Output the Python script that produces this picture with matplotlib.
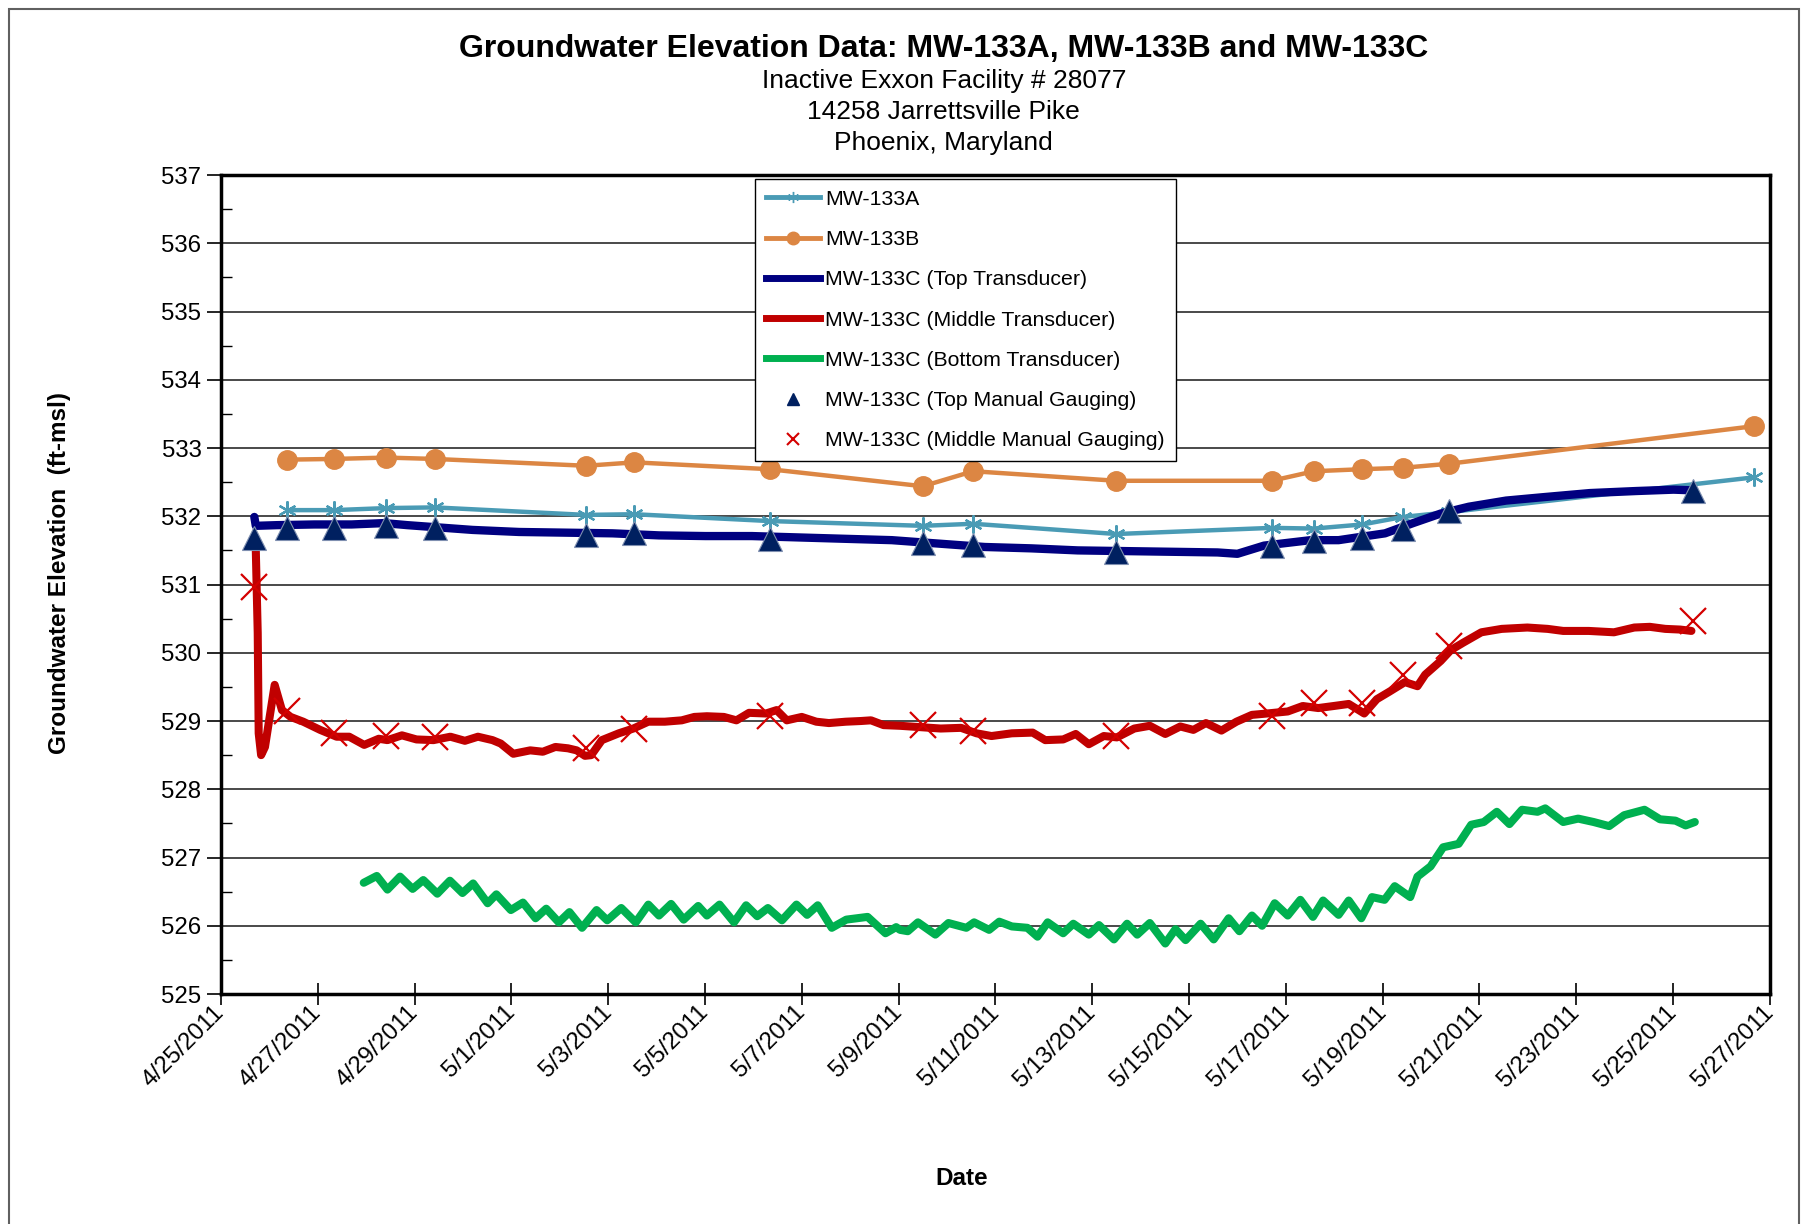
import matplotlib
matplotlib.use('Agg')
import matplotlib.pyplot as plt
import matplotlib.dates as mdates
from matplotlib.ticker import FuncFormatter, MultipleLocator
from matplotlib.lines import Line2D
from matplotlib.patches import Rectangle
import numpy as np
import pandas as pd

plt.rcParams['font.family'] = ['Liberation Sans', 'DejaVu Sans']

# ---------------- data ----------------
base_date = pd.Timestamp('2011-04-25')

well_dates = ['2011-04-26 09:00', '2011-04-27 08:00', '2011-04-28 10:00', '2011-04-29 10:00',
              '2011-05-02 13:00', '2011-05-03 13:00', '2011-05-06 08:00', '2011-05-09 12:00',
              '2011-05-10 13:00', '2011-05-13 12:00', '2011-05-16 17:00', '2011-05-17 14:00',
              '2011-05-18 14:00', '2011-05-19 10:00', '2011-05-20 09:00', '2011-05-26 16:00']
mw133a = [532.09, 532.09, 532.12, 532.13, 532.02, 532.03, 531.93, 531.86,
          531.89, 531.74, 531.83, 531.82, 531.88, 531.99, 532.06, 532.57]
mw133b = [532.83, 532.84, 532.86, 532.84, 532.74, 532.79, 532.69, 532.44,
          532.66, 532.52, 532.52, 532.66, 532.69, 532.71, 532.77, 533.32]

manual_dates = ['2011-04-25 16:30', '2011-04-26 09:00', '2011-04-27 08:00', '2011-04-28 10:00',
                '2011-04-29 10:00', '2011-05-02 13:00', '2011-05-03 13:00', '2011-05-06 08:00',
                '2011-05-09 12:00', '2011-05-10 13:00', '2011-05-13 12:00', '2011-05-16 17:00',
                '2011-05-17 14:00', '2011-05-18 14:00', '2011-05-19 10:00', '2011-05-20 09:00',
                '2011-05-25 10:00']
top_manual = [531.68, 531.83, 531.83, 531.86, 531.83, 531.73, 531.75, 531.67, 531.61,
              531.58, 531.48, 531.56, 531.64, 531.68, 531.81, 532.08, 532.37]
mid_manual = [530.96, 529.15, 528.82, 528.78, 528.77, 528.61, 528.88, 529.08, 528.94,
              528.85, 528.78, 529.07, 529.26, 529.26, 529.67, 530.10, 530.46]

# transducer records: (days after 4/25/2011, elevation ft-msl)
top_transducer = [(0.69, 531.99), (0.72, 531.86), (1.16, 531.87), (1.93, 531.88), (2.70, 531.88),
                  (3.37, 531.90), (3.85, 531.87), (4.43, 531.84), (5.20, 531.80), (6.16, 531.77),
                  (7.12, 531.76), (8.09, 531.75), (9.05, 531.72), (10.01, 531.71), (10.97, 531.71),
                  (11.93, 531.69), (12.89, 531.67), (13.86, 531.65), (14.82, 531.60), (15.78, 531.55),
                  (16.74, 531.53), (17.70, 531.50), (18.66, 531.49), (19.63, 531.48), (20.59, 531.47),
                  (21.00, 531.45), (21.55, 531.57), (22.51, 531.65), (23.09, 531.65), (23.47, 531.69),
                  (24.05, 531.75), (24.63, 531.90), (25.20, 532.04), (25.78, 532.14), (26.55, 532.23),
                  (27.32, 532.28), (28.28, 532.34), (29.24, 532.37), (30.01, 532.39), (30.40, 532.38)]

middle_transducer = [(0.72, 531.51), (0.76, 530.29), (0.78, 528.82), (0.83, 528.50), (0.91, 528.62),
                     (1.11, 529.53), (1.26, 529.16), (1.44, 529.06), (1.70, 528.99), (2.05, 528.87),
                     (2.39, 528.77), (2.65, 528.77), (2.96, 528.65), (3.26, 528.74), (3.44, 528.72),
                     (3.74, 528.79), (4.04, 528.73), (4.39, 528.72), (4.74, 528.77), (5.04, 528.71),
                     (5.31, 528.77), (5.61, 528.72), (5.78, 528.67), (6.04, 528.52), (6.39, 528.57),
                     (6.65, 528.55), (6.91, 528.62), (7.17, 528.60), (7.35, 528.57), (7.52, 528.49),
                     (7.65, 528.50), (7.87, 528.72), (8.22, 528.82), (8.52, 528.89), (8.83, 528.99),
                     (9.17, 528.99), (9.52, 529.01), (9.78, 529.06), (10.04, 529.07), (10.39, 529.06),
                     (10.65, 529.01), (10.91, 529.12), (11.26, 529.11), (11.48, 529.16), (11.69, 529.01),
                     (12.00, 529.06), (12.30, 528.99), (12.56, 528.97), (12.91, 528.99), (13.22, 529.00),
                     (13.43, 529.01), (13.69, 528.94), (14.03, 528.93), (14.45, 528.91), (14.87, 528.89),
                     (15.29, 528.90), (15.61, 528.82), (15.92, 528.78), (16.34, 528.82), (16.77, 528.83),
                     (17.03, 528.72), (17.40, 528.73), (17.66, 528.81), (17.93, 528.66), (18.24, 528.78),
                     (18.51, 528.76), (18.87, 528.89), (19.19, 528.93), (19.51, 528.81), (19.82, 528.92),
                     (20.09, 528.87), (20.35, 528.97), (20.67, 528.86), (20.98, 528.99), (21.30, 529.09),
                     (21.61, 529.11), (22.04, 529.14), (22.35, 529.22), (22.67, 529.19), (22.99, 529.22),
                     (23.30, 529.25), (23.62, 529.11), (23.88, 529.32), (24.14, 529.43), (24.46, 529.57),
                     (24.72, 529.51), (24.88, 529.68), (25.20, 529.88), (25.41, 530.04), (25.67, 530.15),
                     (26.04, 530.30), (26.46, 530.35), (26.99, 530.37), (27.41, 530.35), (27.73, 530.32),
                     (28.26, 530.32), (28.78, 530.30), (29.20, 530.37), (29.52, 530.38), (29.84, 530.35),
                     (30.15, 530.34), (30.38, 530.32)]

bottom_transducer = [(2.95, 526.63), (3.22, 526.73), (3.44, 526.53), (3.70, 526.72), (3.96, 526.54),
                     (4.18, 526.67), (4.47, 526.47), (4.73, 526.66), (4.99, 526.48), (5.21, 526.62),
                     (5.51, 526.33), (5.69, 526.46), (5.99, 526.23), (6.24, 526.34), (6.50, 526.11),
                     (6.72, 526.25), (6.98, 526.05), (7.20, 526.20), (7.46, 525.97), (7.76, 526.23),
                     (7.98, 526.08), (8.27, 526.26), (8.57, 526.05), (8.83, 526.31), (9.05, 526.15),
                     (9.30, 526.32), (9.56, 526.09), (9.86, 526.29), (10.04, 526.15), (10.30, 526.31),
                     (10.60, 526.05), (10.85, 526.30), (11.08, 526.14), (11.30, 526.26), (11.59, 526.08),
                     (11.89, 526.31), (12.11, 526.16), (12.33, 526.30), (12.62, 525.97), (12.92, 526.09),
                     (13.36, 526.13), (13.73, 525.89), (13.95, 525.98), (14.03, 525.94), (14.19, 525.92),
                     (14.40, 526.05), (14.76, 525.87), (15.03, 526.04), (15.40, 525.97), (15.56, 526.05),
                     (15.87, 525.94), (16.08, 526.06), (16.34, 525.99), (16.66, 525.97), (16.87, 525.84),
                     (17.08, 526.05), (17.40, 525.89), (17.61, 526.03), (17.93, 525.87), (18.14, 526.01),
                     (18.45, 525.80), (18.72, 526.03), (18.93, 525.87), (19.19, 526.04), (19.51, 525.74),
                     (19.72, 525.95), (19.93, 525.79), (20.24, 526.03), (20.51, 525.80), (20.82, 526.11),
                     (21.04, 525.92), (21.30, 526.15), (21.51, 526.00), (21.77, 526.33), (22.04, 526.15),
                     (22.30, 526.38), (22.56, 526.13), (22.77, 526.37), (23.09, 526.16), (23.30, 526.37),
                     (23.56, 526.11), (23.78, 526.42), (24.04, 526.38), (24.25, 526.58), (24.57, 526.42),
                     (24.72, 526.72), (24.99, 526.87), (25.25, 527.15), (25.57, 527.20), (25.83, 527.48),
                     (26.09, 527.52), (26.36, 527.67), (26.62, 527.49), (26.88, 527.70), (27.20, 527.67),
                     (27.36, 527.72), (27.73, 527.52), (28.04, 527.57), (28.36, 527.52), (28.68, 527.46),
                     (28.99, 527.62), (29.41, 527.70), (29.73, 527.56), (30.05, 527.54), (30.26, 527.47),
                     (30.45, 527.52)]

x_tick_dates = pd.date_range('2011-04-25', '2011-05-27', freq='2D')

labels = ['MW-133A', 'MW-133B', 'MW-133C (Top Transducer)', 'MW-133C (Middle Transducer)',
          'MW-133C (Bottom Transducer)', 'MW-133C (Top Manual Gauging)',
          'MW-133C (Middle Manual Gauging)']

# ---------------- styles ----------------
c_a = '#4A9BB5'
c_b = '#DC8643'
c_top = '#000080'
c_mid = '#C00000'
c_bot = '#00B050'
c_tri = '#002060'
c_x = '#D40000'
asterisk = (6, 2, 0)


def series(points):
    arr = np.array(points, dtype=float)
    return base_date + pd.to_timedelta(arr[:, 0], unit='D'), arr[:, 1]


fig = plt.figure(figsize=(18.08, 12.24), dpi=100)
fig.patches.append(Rectangle((0.005, -0.02), 0.99, 1.013, transform=fig.transFigure,
                             fill=False, edgecolor='#606060', lw=1.5))
ax = fig.add_axes([0.1222, 0.1879, 0.8567, 0.6691])

ax.plot(pd.to_datetime(well_dates), mw133a, color=c_a, lw=3.2, marker=asterisk, ms=13,
        mew=1.6, zorder=3)
ax.plot(pd.to_datetime(well_dates), mw133b, color=c_b, lw=3.2, marker='o', ms=14,
        mec=c_b, zorder=3)
tx, ty = series(top_transducer)
ax.plot(tx, ty, color=c_top, lw=6, solid_joinstyle='round', solid_capstyle='round', zorder=4)
mx, my = series(middle_transducer)
ax.plot(mx, my, color=c_mid, lw=5.8, solid_joinstyle='round', solid_capstyle='round', zorder=4)
bx, by = series(bottom_transducer)
ax.plot(bx, by, color=c_bot, lw=5.8, solid_joinstyle='round', solid_capstyle='round', zorder=4)
ax.plot(pd.to_datetime(manual_dates), top_manual, ls='none', marker='^', ms=17, color=c_tri,
        mec='#7F8FB0', mew=0.8, zorder=5)
ax.plot(pd.to_datetime(manual_dates), mid_manual, ls='none', marker='x', ms=19, mew=1.6,
        color=c_x, zorder=5)

ax.set_xlim(pd.Timestamp('2011-04-25'), pd.Timestamp('2011-05-27'))
ax.set_ylim(525, 537)
ax.set_xticks(mdates.date2num(x_tick_dates))
ax.xaxis.set_major_formatter(FuncFormatter(
    lambda v, p: (lambda d: f"{d.month}/{d.day}/{d.year}")(mdates.num2date(v))))
ax.yaxis.set_major_locator(MultipleLocator(1))
ax.yaxis.set_minor_locator(MultipleLocator(0.5))

ax.tick_params(axis='x', direction='inout', length=16, width=1.2, labelsize=17.3, pad=3)
ax.tick_params(axis='y', which='major', direction='out', length=10, width=1.2, labelsize=17.3, pad=4)
ax.tick_params(axis='y', which='minor', direction='in', length=8, width=1.0)
for lab in ax.get_xticklabels():
    lab.set_rotation(45)
    lab.set_ha('right')
    lab.set_va('center')
    lab.set_rotation_mode('anchor')

ax.yaxis.grid(True, which='major', color='#3a3a3a', lw=1.3)
ax.set_axisbelow(True)
for s in ax.spines.values():
    s.set_linewidth(2.5)
    s.set_color('black')

handles = [
    Line2D([], [], color=c_a, lw=3.5, marker=asterisk, ms=8, mew=1.0),
    Line2D([], [], color=c_b, lw=3.5, marker='o', ms=9),
    Line2D([], [], color=c_top, lw=5),
    Line2D([], [], color=c_mid, lw=5),
    Line2D([], [], color=c_bot, lw=5),
    Line2D([], [], ls='none', marker='^', ms=9, color=c_tri),
    Line2D([], [], ls='none', marker='x', ms=9, mew=1.5, color=c_x),
]
leg = ax.legend(handles, labels, loc='upper left', bbox_to_anchor=(0.345, 0.995),
                fontsize=15.3, frameon=True, fancybox=False, edgecolor='black', framealpha=1,
                borderaxespad=0, handlelength=2.55, handletextpad=0.25, labelspacing=1.0,
                borderpad=0.5)
leg.get_frame().set_linewidth(1.0)
leg.set_zorder(10)

fig.text(0.522, 0.9600, 'Groundwater Elevation Data: MW-133A, MW-133B and MW-133C',
         ha='center', va='center', fontsize=23, weight='bold')
fig.text(0.522, 0.9342, 'Inactive Exxon Facility # 28077', ha='center', va='center', fontsize=19)
fig.text(0.522, 0.9088, '14258 Jarrettsville Pike', ha='center', va='center', fontsize=19)
fig.text(0.522, 0.8834, 'Phoenix, Maryland', ha='center', va='center', fontsize=19)
fig.text(0.0330, 0.532, 'Groundwater Elevation  (ft-msl)', rotation=90, ha='center',
         va='center', fontsize=17.5, weight='bold')
fig.text(0.532, 0.0370, 'Date', ha='center', va='center', fontsize=17.5, weight='bold')

fig.savefig('out.png', dpi=100)
